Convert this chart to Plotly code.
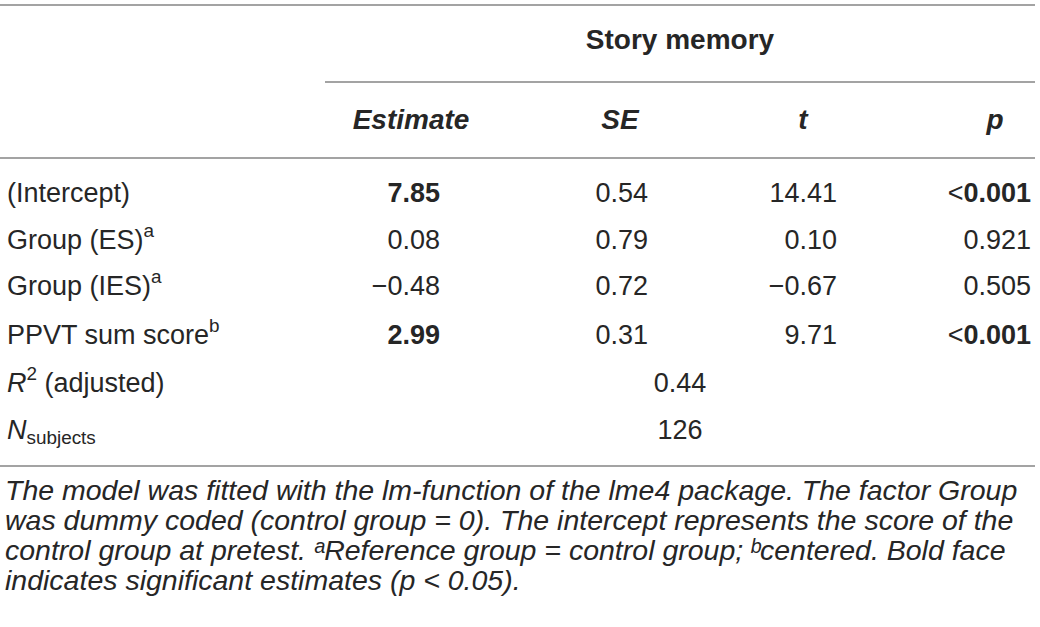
import plotly.graph_objects as go

# table content
terms = ["(Intercept)", "Group (ES)<sup>a</sup>", "Group (IES)<sup>a</sup>", "PPVT sum score<sup>b</sup>"]
estimate = ["7.85", "0.08", "\u22120.48", "2.99"]
se = ["0.54", "0.79", "0.72", "0.31"]
t_val = ["14.41", "0.10", "\u22120.67", "9.71"]
p_val = ["<0.001", "0.921", "0.505", "<0.001"]
significant = [True, False, False, True]

fit_labels = ["<i>R</i><sup>2</sup> (adjusted)", "<i>N</i><sub>subjects</sub>"]
fit_values = ["0.44", "126"]

group_title = "Story memory"
col_headers = ["Estimate", "SE", "t", "p"]

footnote = [
    "The model was fitted with the lm-function of the lme4 package. The factor Group",
    "was dummy coded (control group = 0). The intercept represents the score of the",
    "control group at pretest. \u1d43Reference group = control group; \u1d47centered. Bold face",
    "indicates significant estimates (p &lt; 0.05).",
]

W, H = 1040, 627
FONT = "Liberation Sans, Arial, Helvetica, sans-serif"
TXT = "#262626"
RULE = "#858585"

row_y = [195, 242, 288, 337]
fit_y = [385, 432]
note_y = [493, 523, 553, 583]


def bold_if(vals, flags):
    return [f"<b>{v}</b>" if f else v for v, f in zip(vals, flags)]


def p_fmt(vals, flags):
    out = []
    for v, f in zip(vals, flags):
        if v.startswith("<"):
            num = v[1:]
            out.append("&lt;" + (f"<b>{num}</b>" if f else num))
        else:
            out.append(f"<b>{v}</b>" if f else v)
    return out


fig = go.Figure()


def add_text(xs, ys, texts, pos, size=27):
    fig.add_trace(go.Scatter(
        x=xs, y=ys, text=texts, mode="text", textposition=pos,
        textfont=dict(family=FONT, size=size, color=TXT),
        hoverinfo="skip", showlegend=False,
    ))


# group title and column headers
add_text([680], [42], [f"<b>{group_title}</b>"], "middle center", size=28)
add_text([411, 620, 803, 995], [122] * 4,
         [f"<b><i>{h}</i></b>" for h in col_headers], "middle center", size=28)

# term labels
add_text([7] * len(terms), row_y, terms, "middle right")
add_text([7] * len(fit_labels), fit_y, fit_labels, "middle right")

# numeric columns (right aligned)
add_text([440] * 4, row_y, bold_if(estimate, significant), "middle left")
add_text([648] * 4, row_y, se, "middle left")
add_text([837] * 4, row_y, t_val, "middle left")
add_text([1031] * 4, row_y, p_fmt(p_val, significant), "middle left")

# model fit values
add_text([680] * 2, fit_y, fit_values, "middle center")

# footnote
add_text([5] * len(footnote), note_y,
         [f"<i>{line}</i>" for line in footnote], "middle right", size=28.5)

# table rules
rules = [(0, 1035, 5), (325, 1035, 82), (0, 1035, 158), (0, 1035, 466)]
for x0, x1, y in rules:
    fig.add_shape(type="line", x0=x0, x1=x1, y0=y, y1=y, xref="x", yref="y",
                  line=dict(color=RULE, width=1.5))

fig.update_layout(
    width=W, height=H,
    margin=dict(l=0, r=0, t=0, b=0),
    paper_bgcolor="white", plot_bgcolor="white",
    xaxis=dict(range=[0, W], visible=False, fixedrange=True),
    yaxis=dict(range=[H, 0], visible=False, fixedrange=True),
)

fig.write_html(
    "out.html",
    config={"displayModeBar": False},
    post_script="document.body.style.margin='0';document.body.style.overflow='hidden';",
)
